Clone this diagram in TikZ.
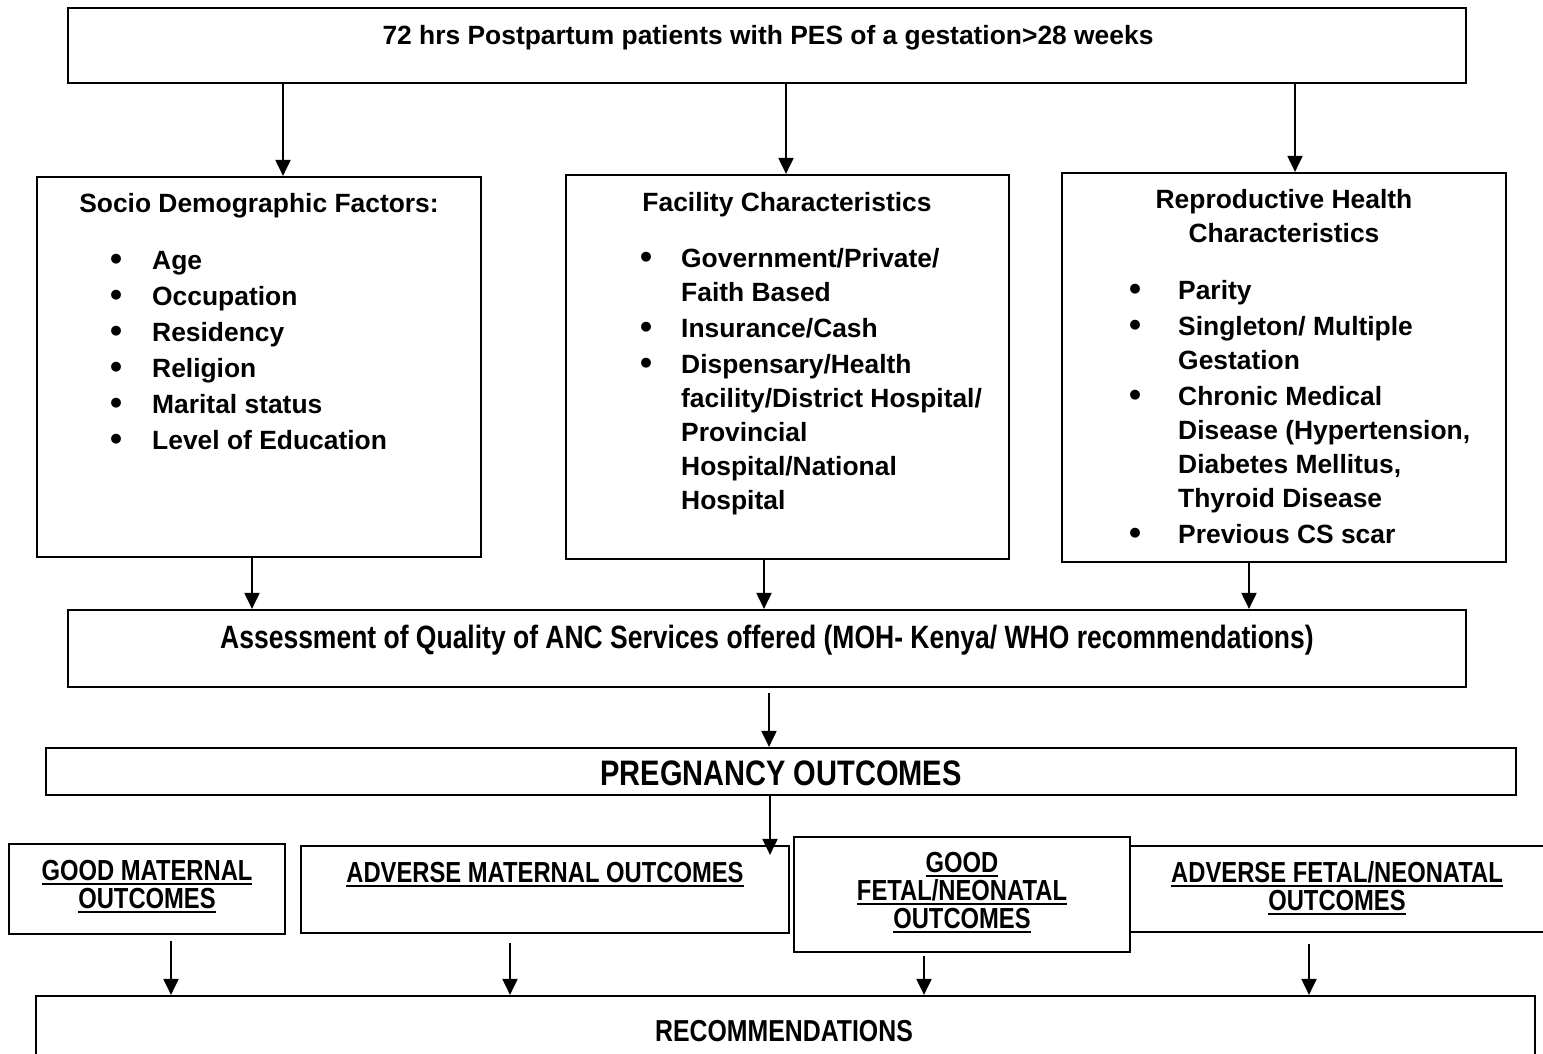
\documentclass[tikz,border=0pt]{standalone}
\usepackage{fontspec}
\setmainfont{Liberation Sans}
\newfontfamily\narrowfont{Liberation Sans}[FakeStretch=0.82]
\usetikzlibrary{arrows.meta}
\newsavebox\ulbox
\newcommand{\uln}[1]{\sbox\ulbox{#1}\rlap{\rule[-5pt]{\wd\ulbox}{2pt}}\usebox\ulbox}
\newcommand{\bul}{\raisebox{-1.5pt}{\scalebox{1.3}{\textbullet}}}
\tikzset{box/.style = {draw, line width=2.2pt, fill=white, inner sep=0}}
\tikzset{txt/.style = {inner sep=0, anchor=base, align=center,
                       font=\bfseries\fontsize{26.4}{34}\selectfont}}
\tikzset{ntxt/.style = {inner sep=0, anchor=base, align=center,
                        font=\narrowfont\bfseries\fontsize{29}{28}\selectfont}}
\tikzset{lst/.style = {inner sep=0, anchor=base west,
                       font=\bfseries\fontsize{26.4}{34}\selectfont}}
\tikzset{arr/.style = {line width=2pt, -{Triangle[length=16pt, width=15pt]}}}

\begin{document}
\begin{tikzpicture}[x=1pt, y=-1pt]
      \useasboundingbox (0,0) rectangle (1543,1053);
      \clip (0,0) rectangle (1543,1053);

      \node [box, minimum width=1398pt, minimum height=75pt] (top) at (767,45.5) {};
      \node [box, minimum width=444pt, minimum height=380pt] (socio) at (259,367) {};
      \node [box, minimum width=443pt, minimum height=384pt] (facility) at (787.5,367) {};
      \node [box, minimum width=444pt, minimum height=389pt] (repro) at (1284,367.5) {};
      \node [box, minimum width=1398pt, minimum height=77pt] (assess) at (767,648.5) {};
      \node [box, minimum width=1470pt, minimum height=47pt] (preg) at (781,771.5) {};
      \node [box, minimum width=276pt, minimum height=90pt] (gmat) at (147,889) {};
      \node [box, minimum width=488pt, minimum height=87pt] (amat) at (545,889.5) {};
      \node [box, minimum width=450pt, minimum height=86pt] (afet) at (1325,889) {};
      \node [box, minimum width=336pt, minimum height=115pt] (gfet) at (962,894.5) {};
      \node [box, minimum width=1499pt, minimum height=80pt] (recom) at (785.5,1036) {};

      \node [txt] (top-t) at (768,44) {72 hrs Postpartum patients with PES of a gestation>28 weeks};

      \node [txt] (socio-t) at (259,212) {Socio Demographic Factors:};
      \node [lst] (socio-l) at (110,269) {\begin{tabular}[t]{@{}p{42pt}@{}l@{}}
        \bul & Age\\[2pt]
        \bul & Occupation\\[2pt]
        \bul & Residency\\[2pt]
        \bul & Religion\\[2pt]
        \bul & Marital status\\[2pt]
        \bul & Level of Education
      \end{tabular}};

      \node [txt] (facility-t) at (787,211) {Facility Characteristics};
      \node [lst] (facility-l) at (640,267) {\begin{tabular}[t]{@{}p{41pt}@{}l@{}}
        \bul & Government/Private/\\
             & Faith Based\\[2pt]
        \bul & Insurance/Cash\\[2pt]
        \bul & Dispensary/Health\\
             & facility/District Hospital/\\
             & Provincial\\
             & Hospital/National\\
             & Hospital
      \end{tabular}};

      \node [txt] (repro-t) at (1284,242) {Reproductive Health\\Characteristics};
      \node [lst] (repro-l) at (1129,299) {\begin{tabular}[t]{@{}p{49pt}@{}l@{}}
        \bul & Parity\\[2pt]
        \bul & Singleton/ Multiple\\
             & Gestation\\[2pt]
        \bul & Chronic Medical\\
             & Disease (Hypertension,\\
             & Diabetes Mellitus,\\
             & Thyroid Disease\\[2pt]
        \bul & Previous CS scar
      \end{tabular}};

      \node [ntxt, font=\narrowfont\bfseries\fontsize{32.3}{36}\selectfont] (assess-t) at (767,648)
        {Assessment of Quality of ANC Services offered (MOH- Kenya/ WHO recommendations)};
      \node [ntxt, font=\narrowfont\bfseries\fontsize{35.4}{40}\selectfont] (preg-t) at (781,785) {PREGNANCY OUTCOMES};

      \node [ntxt] (gmat-t) at (147,908) {\uln{GOOD MATERNAL}\\\uln{OUTCOMES}};
      \node [ntxt] (amat-t) at (545,882) {\uln{ADVERSE MATERNAL OUTCOMES}};
      \node [ntxt] (gfet-t) at (962,928) {\uln{GOOD}\\\uln{FETAL/NEONATAL}\\\uln{OUTCOMES}};
      \node [ntxt] (afet-t) at (1337,910) {\uln{ADVERSE FETAL/NEONATAL}\\\uln{OUTCOMES}};

      \node [ntxt, font=\narrowfont\bfseries\fontsize{30.3}{34}\selectfont] (recom-t) at (784,1041) {RECOMMENDATIONS};

      \draw [arr] (283,0 |- top.south) -- (283,0 |- socio.north);
      \draw [arr] (786,0 |- top.south) -- (786,0 |- facility.north);
      \draw [arr] (1295,0 |- top.south) -- (1295,0 |- repro.north);

      \draw [arr] (252,0 |- socio.south) -- (252,0 |- assess.north);
      \draw [arr] (764,0 |- facility.south) -- (764,0 |- assess.north);
      \draw [arr] (1249,0 |- repro.south) -- (1249,0 |- assess.north);

      \draw [arr, shorten <=5pt] (769,0 |- assess.south) -- (769,0 |- preg.north);
      \draw [arr, shorten >=-10pt] (770,0 |- preg.south) -- (770,0 |- amat.north);

      \draw [arr, shorten <=6pt] (171,0 |- gmat.south) -- (171,0 |- recom.north);
      \draw [arr, shorten <=9pt] (510,0 |- amat.south) -- (510,0 |- recom.north);
      \draw [arr, shorten <=3pt] (924,0 |- gfet.south) -- (924,0 |- recom.north);
      \draw [arr, shorten <=11pt] (1309,0 |- afet.south) -- (1309,0 |- recom.north);
    \end{tikzpicture}
\end{document}
